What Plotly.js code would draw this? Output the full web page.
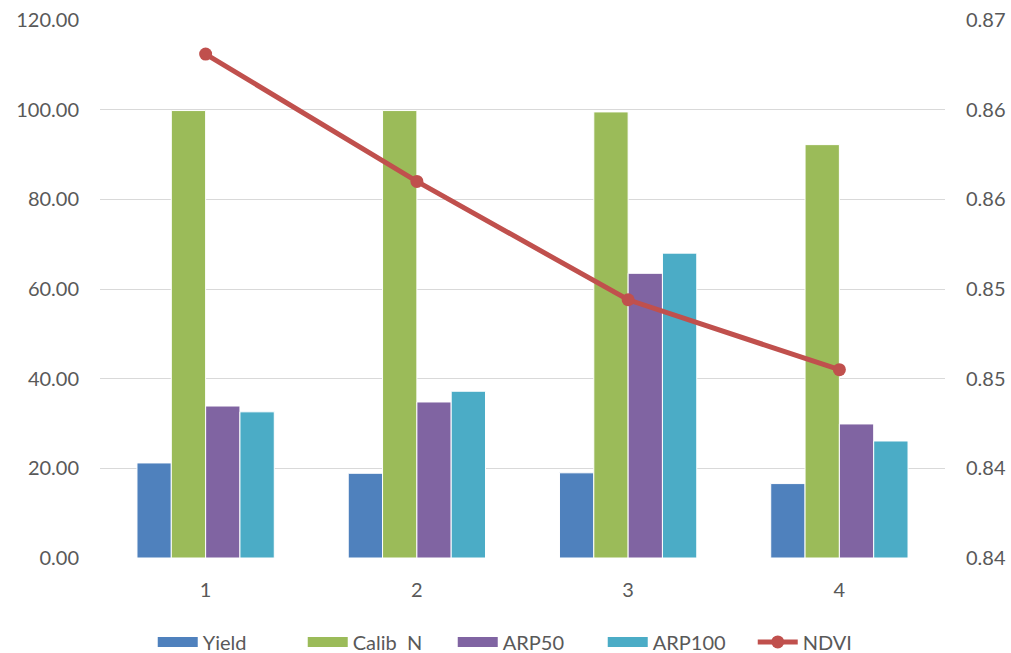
<!DOCTYPE html>
<html>
<head>
<meta charset="utf-8">
<script src="https://cdn.plot.ly/plotly-3.0.1.min.js"></script>
<style>html,body{margin:0;padding:0;background:#fff}#chart{width:1011px;height:653px}</style>
</head>
<body>
<div id="chart"></div>
<script>
var categories = ["1", "2", "3", "4"];
var seriesNames = ["Yield", "Calib\u00a0 N", "ARP50", "ARP100"];
var yieldVals = [21.2, 18.9, 19.0, 16.6];
var calibN = [99.8, 99.8, 99.5, 92.2];
var arp50 = [33.9, 34.8, 63.5, 29.9];
var arp100 = [32.6, 37.2, 68.0, 26.1];
var ndvi = [0.8681, 0.8610, 0.8544, 0.8505];
var leftTickVals = [0, 20, 40, 60, 80, 100, 120];
var leftTickText = ["0.00", "20.00", "40.00", "60.00", "80.00", "100.00", "120.00"];
var rightTickVals = [0.84, 0.845, 0.85, 0.855, 0.86, 0.865, 0.87];
var rightTickText = ["0.84", "0.84", "0.85", "0.85", "0.86", "0.86", "0.87"];

var barColors = ["#4f81bd", "#9bbb59", "#8064a2", "#4bacc6"];
var barData = [yieldVals, calibN, arp50, arp100];

var traces = [];
for (var i = 0; i < barData.length; i++) {
  traces.push({type: "bar", name: seriesNames[i], x: categories, y: barData[i],
    showlegend: false, legendgroup: "g" + i,
    marker: {color: barColors[i], line: {color: "#ffffff", width: 1}}});
}
// legend entries (wide swatches like the original)
for (var j = 0; j < barData.length; j++) {
  traces.push({type: "scatter", mode: "lines", name: seriesNames[j], x: [null], y: [null],
    legendgroup: "g" + j, hoverinfo: "skip",
    line: {color: barColors[j], width: 14}});
}
traces.push({type: "scatter", mode: "lines+markers", name: "NDVI", x: categories, y: ndvi, yaxis: "y2",
  line: {color: "#c0504d", width: 5}, marker: {color: "#c0504d", size: 13}});

var font = {family: "Lato, 'Open Sans', sans-serif", size: 20, color: "#595959"};
var layout = {
  width: 1011, height: 653,
  margin: {l: 100, r: 66, t: 20, b: 95},
  paper_bgcolor: "#ffffff", plot_bgcolor: "#ffffff",
  font: font,
  barmode: "group", bargap: 0.35, bargroupgap: 0,
  showlegend: true,
  legend: {orientation: "h", x: 0.522, xanchor: "center", xref: "container",
    y: 0.017, yanchor: "middle", yref: "container",
    font: font, traceorder: "normal", itemwidth: 40, entrywidth: 95, entrywidthmode: "pixels",
    bgcolor: "rgba(0,0,0,0)"},
  xaxis: {type: "category", showgrid: false, zeroline: false, showline: false,
    ticks: "", tickfont: font, ticklabelstandoff: 18, automargin: false},
  yaxis: {range: [0, 120], tickvals: leftTickVals, ticktext: leftTickText,
    showgrid: true, gridcolor: "#d9d9d9", gridwidth: 1, zeroline: false, showline: false,
    ticks: "", tickfont: font, ticklabelstandoff: 20, automargin: false},
  yaxis2: {range: [0.84, 0.87], overlaying: "y", side: "right",
    tickvals: rightTickVals, ticktext: rightTickText,
    showgrid: false, zeroline: false, showline: false, ticks: "", tickfont: font,
    ticklabelstandoff: 20, automargin: false}
};
Plotly.newPlot("chart", traces, layout, {displayModeBar: false, staticPlot: true});
</script>
</body>
</html>
